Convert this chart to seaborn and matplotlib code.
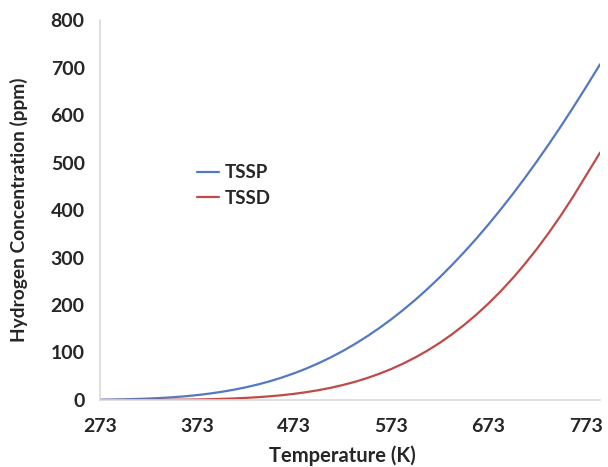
import pandas as pd
import numpy as np
import matplotlib
matplotlib.use("Agg")
import matplotlib.pyplot as plt
import seaborn as sns

# values (ppm)
temperature = [273, 285.5, 298, 310.5, 323, 335.5, 348, 360.5, 373, 385.5,
               398, 410.5, 423, 435.5, 448, 460.5, 473, 485.5, 498, 510.5,
               523, 535.5, 548, 560.5, 573, 585.5, 598, 610.5, 623, 635.5,
               648, 660.5, 673, 685.5, 698, 710.5, 723, 735.5, 748, 760.5,
               773, 788]
tssp = [0.5, 0.9, 1.4, 2.1, 3.0, 4.2, 5.8, 7.8, 10.3, 13.4,
        17.1, 21.5, 26.6, 32.6, 39.5, 47.4, 56.3, 66.3, 77.4, 89.6,
        103.1, 117.9, 133.9, 151.3, 170.0, 190.1, 211.5, 234.4, 258.6, 284.3,
        311.3, 339.7, 369.6, 400.9, 433.5, 467.5, 502.8, 539.5, 577.5, 616.8,
        657.3, 707.0]
tssd = [0.0, 0.0, 0.1, 0.1, 0.2, 0.3, 0.5, 0.7, 1.1, 1.6,
        2.3, 3.2, 4.4, 5.9, 7.8, 10.1, 13.0, 16.5, 20.7, 25.6,
        31.5, 38.2, 46.1, 55.1, 65.3, 76.9, 89.9, 104.4, 120.5, 138.4,
        158.1, 179.6, 203.1, 228.7, 256.4, 286.3, 318.4, 352.9, 389.8, 429.1,
        471.0, 521.0]
series_names = ["TSSP", "TSSD"]
x_ticks = [273, 373, 473, 573, 673, 773]
y_ticks = [0, 100, 200, 300, 400, 500, 600, 700, 800]

df = pd.DataFrame({
    "Temperature": temperature * 2,
    "ppm": tssp + tssd,
    "series": [series_names[0]] * len(temperature) + [series_names[1]] * len(temperature),
})

sns.set_style("white")
plt.rcParams['font.family'] = ['Lato', 'DejaVu Sans']

fig = plt.figure(figsize=(6.08, 4.67), dpi=100)
ax = fig.add_axes([0.1645, 0.1435, 0.8225, 0.8135])

sns.lineplot(data=df, x="Temperature", y="ppm", hue="series",
             palette={"TSSP": "#5279C2", "TSSD": "#BE4B48"},
             linewidth=1.6, ax=ax)

ax.set_xlim(273, 788)
ax.set_ylim(0, 800)
ax.set_xticks(x_ticks)
ax.set_yticks(y_ticks)
ax.tick_params(axis='both', length=0, labelsize=14)
ax.tick_params(axis='x', pad=13)
ax.tick_params(axis='y', pad=11)
for lab in ax.get_xticklabels() + ax.get_yticklabels():
    lab.set_fontweight('bold')

for side in ['top', 'right']:
    ax.spines[side].set_visible(False)
for side in ['left', 'bottom']:
    ax.spines[side].set_color('#d9d9d9')
    ax.spines[side].set_linewidth(1.2)

ax.set_xlabel("Temperature (K)", fontsize=14.5, fontweight='bold')
ax.set_ylabel("Hydrogen Concentration (ppm)", fontsize=13.8, fontweight='bold')
ax.xaxis.set_label_coords(0.484, -0.12)
ax.yaxis.set_label_coords(-0.144, 0.5)

leg = ax.legend(loc='upper left', bbox_to_anchor=(0.16, 0.665), frameon=False,
                handlelength=1.2, handletextpad=0.3, labelspacing=0.45,
                prop={'size': 13.5, 'weight': 'bold'})

fig.savefig("out.png", dpi=100)
